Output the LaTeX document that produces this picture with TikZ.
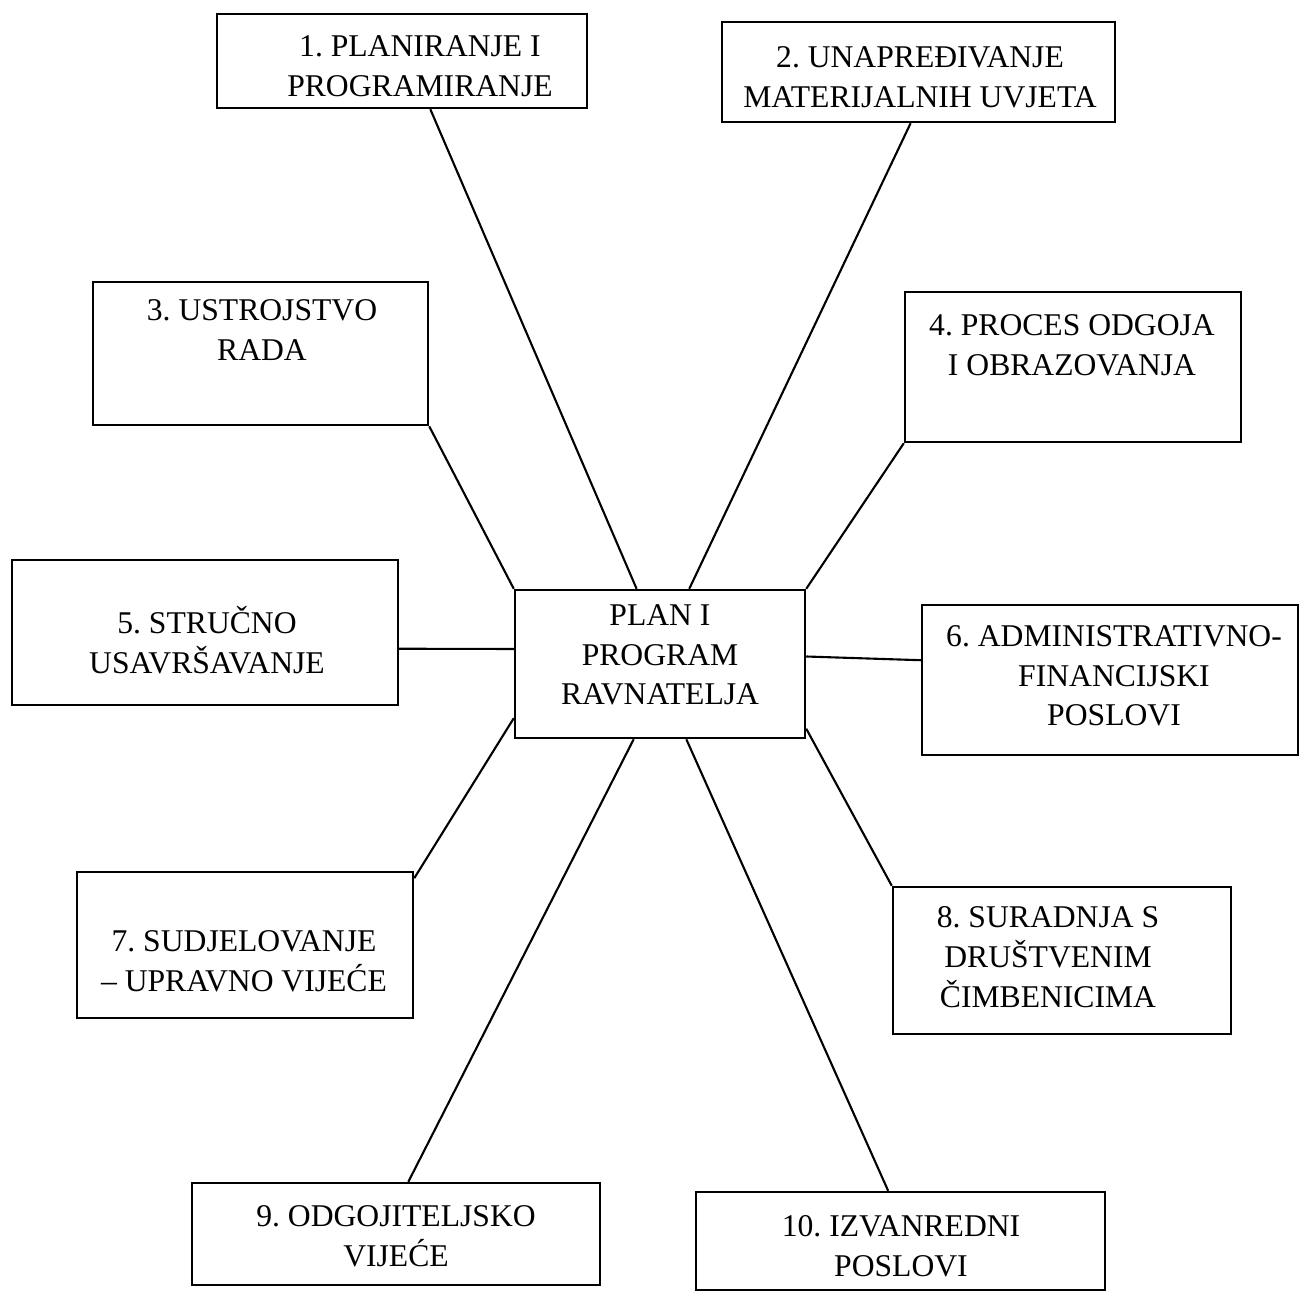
\documentclass[tikz,border=0pt]{standalone}
\usepackage{fontspec}
\setmainfont{Liberation Serif}
\usetikzlibrary{calc}
\frenchspacing

\begin{document}
\begin{tikzpicture}[
    box/.style={draw, line width=0.7pt, inner sep=0pt},
    txt/.style={align=center, inner sep=0pt, font=\fontsize{9}{11.3}\selectfont},
    link/.style={line width=0.6pt}
  ]
        \useasboundingbox (0,0) rectangle (13,-12.92);
        \node[box, minimum width=2.90cm, minimum height=1.48cm] (c) at (6.60,-6.64) {};
        \node[txt] (tc) at (6.60,-6.55) {PLAN I\\PROGRAM\\RAVNATELJA};
        \node[box, minimum width=3.70cm, minimum height=0.94cm] (b1) at (4.02,-0.61) {};
        \node[txt] (t1) at (4.20,-0.66) {1. PLANIRANJE I\\PROGRAMIRANJE};
        \node[box, minimum width=3.93cm, minimum height=1.00cm] (b2) at (9.185,-0.72) {};
        \node[txt] (t2) at (9.20,-0.77) {2. UNAPREĐIVANJE\\MATERIJALNIH UVJETA};
        \node[box, minimum width=3.35cm, minimum height=1.43cm] (b3) at (2.605,-3.535) {};
        \node[txt] (t3) at (2.62,-3.30) {3. USTROJSTVO\\RADA};
        \node[box, minimum width=3.36cm, minimum height=1.50cm] (b4) at (10.73,-3.67) {};
        \node[txt] (t4) at (10.72,-3.45) {4. PROCES ODGOJA\\I OBRAZOVANJA};
        \node[box, minimum width=3.86cm, minimum height=1.45cm] (b5) at (2.05,-6.325) {};
        \node[txt] (t5) at (2.07,-6.40) {5. STRUČNO\\USAVRŠAVANJE};
        \node[box, minimum width=3.76cm, minimum height=1.50cm] (b6) at (11.10,-6.80) {};
        \node[txt] (t6) at (11.14,-6.76) {6. ADMINISTRATIVNO-\\FINANCIJSKI\\POSLOVI};
        \node[box, minimum width=3.36cm, minimum height=1.46cm] (b7) at (2.45,-9.45) {};
        \node[txt] (t7) at (2.44,-9.61) {7. SUDJELOVANJE\\– UPRAVNO VIJEĆE};
        \node[box, minimum width=3.38cm, minimum height=1.47cm] (b8) at (10.62,-9.605) {};
        \node[txt] (t8) at (10.48,-9.57) {8. SURADNJA S\\DRUŠTVENIM\\ČIMBENICIMA};
        \node[box, minimum width=4.08cm, minimum height=1.02cm] (b9) at (3.96,-12.34) {};
        \node[txt] (t9) at (3.96,-12.36) {9. ODGOJITELJSKO\\VIJEĆE};
        \node[box, minimum width=4.09cm, minimum height=0.98cm] (b10) at (9.005,-12.41) {};
        \node[txt] (t10) at (9.01,-12.46) {10. IZVANREDNI\\POSLOVI};
        \draw[link] ($(b1.south west)!0.576!(b1.south east)$) -- ($(c.north west)!0.42!(c.north east)$);
        \draw[link] ($(b2.south west)!0.48!(b2.south east)$) -- ($(c.north west)!0.60!(c.north east)$);
        \draw[link] (b3.south east) -- (c.north west);
        \draw[link] (b4.south west) -- (c.north east);
        \draw[link] ($(b5.north east)!0.61!(b5.south east)$) -- ($(c.north west)!0.40!(c.south west)$);
        \draw[link] ($(b6.north west)!0.37!(b6.south west)$) -- ($(c.north east)!0.45!(c.south east)$);
        \draw[link] ($(b7.north east)!0.05!(b7.south east)$) -- ($(c.north west)!0.86!(c.south west)$);
        \draw[link] (b8.north west) -- ($(c.north east)!0.93!(c.south east)$);
        \draw[link] ($(b9.north west)!0.53!(b9.north east)$) -- ($(c.south west)!0.41!(c.south east)$);
        \draw[link] ($(b10.north west)!0.47!(b10.north east)$) -- ($(c.south west)!0.59!(c.south east)$);
    \end{tikzpicture}
\end{document}
